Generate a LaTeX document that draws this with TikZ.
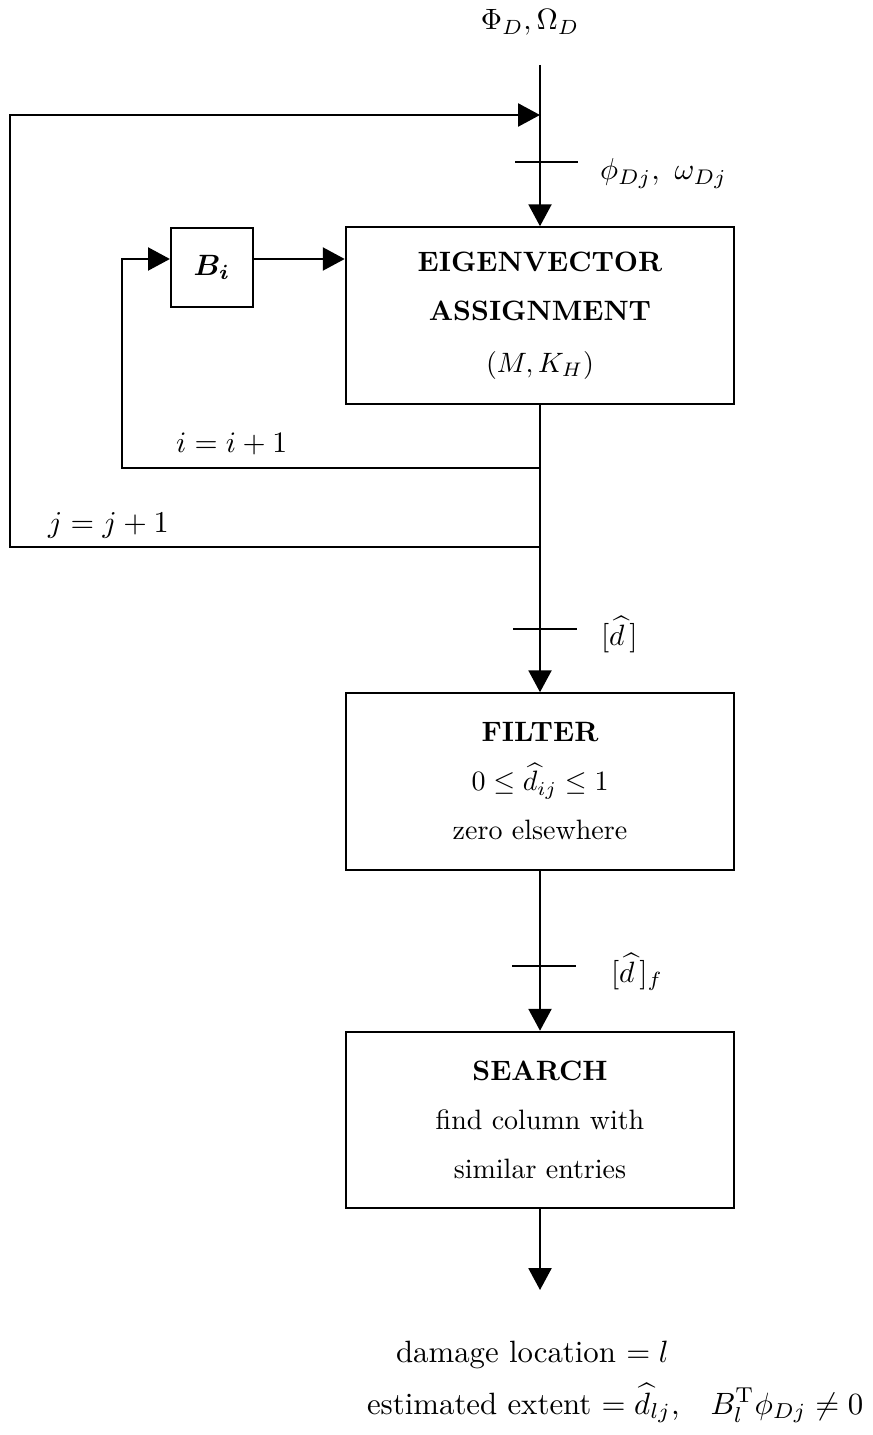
\documentclass[tikz,border=0pt]{standalone}
\usepackage{amsmath}
\usepackage{bm}
\usetikzlibrary{arrows.meta,calc}
\begin{document}
\begin{tikzpicture}[x=0.357pt,y=-0.357pt,
  line width=0.75pt,
  arr/.style={-{Triangle[length=7.8pt,width=8.2pt]}},
  blockbox/.style={draw,line width=0.75pt,inner sep=0pt,align=center,
    minimum width=138.7pt,minimum height=63pt,font=\normalsize,
    execute at begin node={\setlength{\baselineskip}{17.5pt}}},
  smallbox/.style={draw,line width=0.75pt,inner sep=0pt,
    minimum width=29.3pt,minimum height=28.2pt},
  lbl/.style={inner sep=0pt}]
\useasboundingbox (0,0) rectangle (872,1435);
% nodes
\node[lbl,anchor=base] (top) at (530,30) {\scalebox{1.05}{$\Phi_D,\Omega_D$}};
\coordinate (in) at (540,65);
\coordinate (jtop) at (540,115);
\coordinate (xl) at (10,0);
\node[blockbox] (eig) at (540,315.5) {\textbf{EIGENVECTOR}\\\textbf{ASSIGNMENT}\\[1pt]$(M,K_H)$};
\node[smallbox] (Bi) at (212,267.5) {\scalebox{1.05}{$\bm{B_i}$}};
\coordinate (ay) at (122,259);
\coordinate (ii) at (540,468);
\coordinate (jj) at (540,547);
\node[blockbox] (filter) at (540,781.5) {\textbf{FILTER}\\$0\le\widehat{d}_{ij}\le 1$\\zero elsewhere};
\node[blockbox] (search) at (540,1120) {\textbf{SEARCH}\\find column with\\similar entries};
\coordinate (out) at (540,1290);
% ticks
\coordinate (t1a) at (515,162); \coordinate (t1b) at (578,162);
\coordinate (t2a) at (513,629); \coordinate (t2b) at (577,629);
\coordinate (t3a) at (512,966); \coordinate (t3b) at (576,966);
\draw (t1a) -- (t1b);
\draw (t2a) -- (t2b);
\draw (t3a) -- (t3b);
% labels
\node[lbl,anchor=base west] (phi) at (599,180) {\scalebox{1.08}{$\phi_{Dj},\ \omega_{Dj}$}};
\node[lbl,anchor=base west] (dhat) at (600,645) {\scalebox{1.05}{$[\widehat{d}\,]$}};
\node[lbl,anchor=base west] (dhatf) at (610,982) {\scalebox{1.05}{$[\widehat{d}\,]_f$}};
\node[lbl,anchor=base west] (iinc) at (175,452) {\scalebox{1.06}{$i=i+1$}};
\node[lbl,anchor=base west] (jinc) at (47,532) {\scalebox{1.08}{$j=j+1$}};
\node[lbl,anchor=base west] (loc) at (395,1362) {\scalebox{1.1}{damage location $=l$}};
\node[lbl,anchor=base west] (ext) at (366,1414) {\scalebox{1.1}{estimated extent $=\widehat{d}_{lj}$,\quad$B_l^{\mathrm{T}}\phi_{Dj}\neq 0$}};
% connectors
\draw[arr] (in) -- (eig.north);
\draw[arr] (jj) -| (jtop -| xl) -- (jtop);
\draw[arr] (ii) -| (ay) -- (ay -| Bi.west);
\draw[arr] (Bi.east |- ay) -- (ay -| eig.west);
\draw[arr] (eig.south) -- (filter.north);
\draw[arr] (filter.south) -- (search.north);
\draw[arr] (search.south) -- (out);
\end{tikzpicture}
\end{document}
